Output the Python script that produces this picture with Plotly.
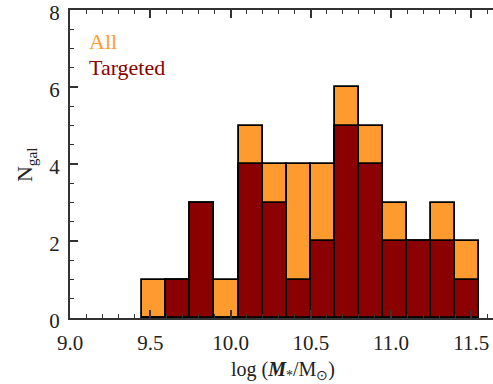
import plotly.graph_objects as go

# Histogram bins (centres, log M*/Msun) — bin width 0.15
mass_bins = [9.525, 9.675, 9.825, 9.975, 10.125, 10.275, 10.425,
             10.575, 10.725, 10.875, 11.025, 11.175, 11.325, 11.475]
bin_width = 0.15
n_all = [1, 1, 3, 1, 5, 4, 4, 4, 6, 5, 3, 2, 3, 2]
n_targeted = [0, 1, 3, 0, 4, 3, 1, 2, 5, 4, 2, 2, 2, 1]
x_ticks = [9.0, 9.5, 10.0, 10.5, 11.0, 11.5]
x_ticklabels = ["9.0", "9.5", "10.0", "10.5", "11.0", "11.5"]
y_ticks = [0, 2, 4, 6, 8]

ORANGE = "#FF9A2E"
DARKRED = "#8B0000"
FONT = "Liberation Serif"

fig = go.Figure()
fig.add_trace(go.Bar(x=mass_bins, y=n_all, width=[bin_width] * len(mass_bins),
                     marker=dict(color=ORANGE, line=dict(color="black", width=1.8)),
                     name="All", showlegend=False))
fig.add_trace(go.Bar(x=mass_bins, y=n_targeted, width=[bin_width] * len(mass_bins),
                     marker=dict(color=DARKRED, line=dict(color="black", width=1.8)),
                     name="Targeted", showlegend=False))

fig.add_annotation(x=0.04, y=0.899, xref="paper", yref="paper", text="All",
                   showarrow=False, xanchor="left", yanchor="middle",
                   font=dict(family=FONT, size=22, color=ORANGE))
fig.add_annotation(x=0.04, y=0.812, xref="paper", yref="paper", text="Targeted",
                   showarrow=False, xanchor="left", yanchor="middle",
                   font=dict(family=FONT, size=22, color=DARKRED))

# axis titles
fig.add_annotation(x=0.495, y=-0.172, xref="paper", yref="paper",
                   text="log (<b><i>M</i></b><sub>*</sub>/M<sub>⊙</sub>)",
                   showarrow=False, xanchor="center", yanchor="middle",
                   font=dict(family=FONT, size=20, color="#222"))
fig.add_annotation(x=-0.102, y=0.497, xref="paper", yref="paper",
                   text="N<sub>gal</sub>", textangle=-90,
                   showarrow=False, xanchor="center", yanchor="middle",
                   font=dict(family=FONT, size=22, color="#222"))

fig.update_layout(
    width=500, height=384,
    margin=dict(l=70, r=0, t=10, b=66),
    paper_bgcolor="white", plot_bgcolor="white",
    barmode="overlay", bargap=0,
    font=dict(family=FONT, size=21, color="#222"),
    xaxis=dict(range=[9.0, 11.679], tickvals=x_ticks, ticktext=x_ticklabels,
               ticks="inside", ticklen=8, tickwidth=1.5, tickcolor="#333",
               minor=dict(dtick=0.1, ticks="inside", ticklen=4, tickwidth=1.2, tickcolor="#333"),
               showline=True, linecolor="#333", linewidth=2, mirror="allticks",
               showgrid=False, zeroline=False, automargin=False,
               ticklabeloverflow="allow", ticklabelstandoff=5),
    yaxis=dict(range=[0, 8], tickvals=y_ticks,
               ticks="inside", ticklen=8, tickwidth=1.5, tickcolor="#333",
               minor=dict(dtick=0.5, ticks="inside", ticklen=4, tickwidth=1.2, tickcolor="#333"),
               showline=True, linecolor="#333", linewidth=2, mirror=False,
               showgrid=False, zeroline=False, automargin=False,
               ticklabeloverflow="allow", ticklabelstandoff=4, ticklabelshift=3),
)

fig.write_html("out.html", config={"displayModeBar": False},
               post_script="document.body.style.margin='0';document.body.style.overflow='hidden';")
